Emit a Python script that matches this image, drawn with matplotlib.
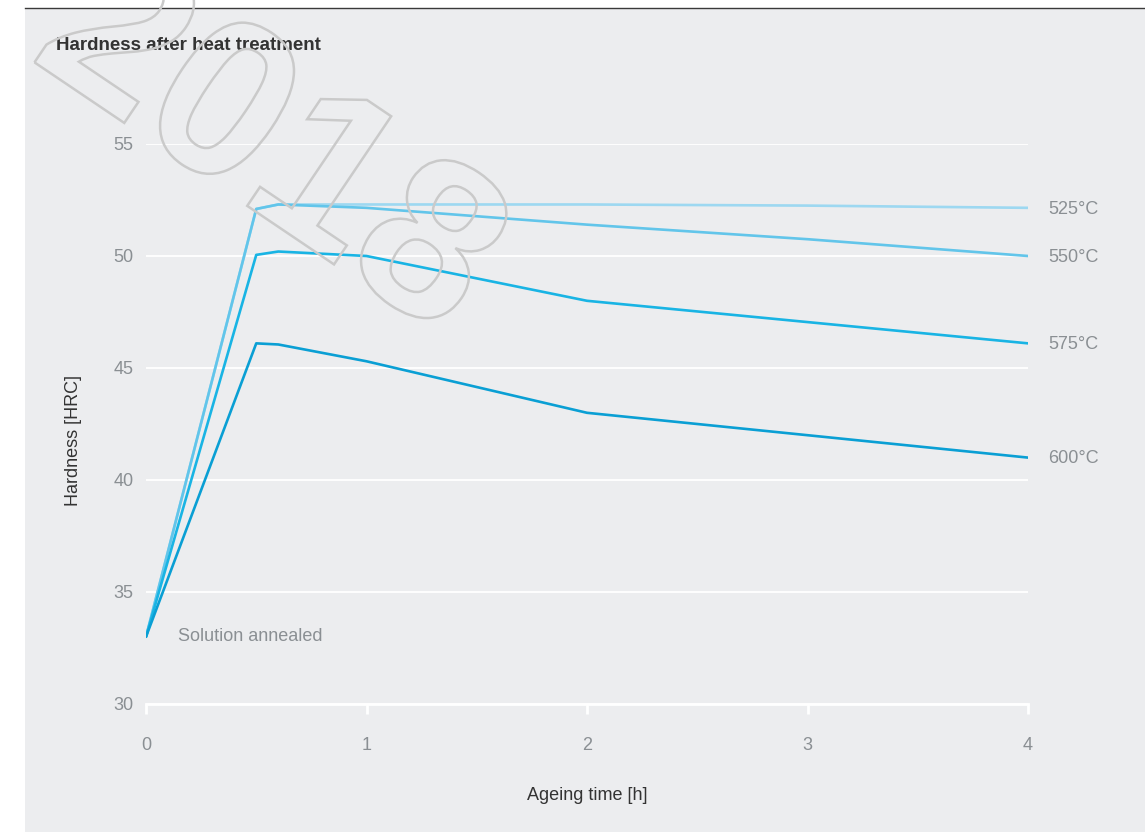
import matplotlib.pyplot as plt
from matplotlib.textpath import TextPath
from matplotlib.patches import PathPatch, Rectangle
from matplotlib.font_manager import FontProperties
from matplotlib.lines import Line2D
from matplotlib.transforms import Affine2D

# ageing curves, hardness in HRC over time in hours
t_525 = [0, 0.5, 0.6, 1, 2, 3, 4]
h_525 = [33.0, 52.1, 52.3, 52.3, 52.3, 52.25, 52.15]

t_550 = [0, 0.5, 0.6, 1, 2, 3, 4]
h_550 = [33.0, 52.1, 52.3, 52.15, 51.4, 50.75, 50.0]

t_575 = [0, 0.5, 0.6, 1, 2, 3, 4]
h_575 = [33.0, 50.05, 50.2, 50.0, 48.0, 47.05, 46.1]

t_600 = [0, 0.5, 0.6, 1, 2, 3, 4]
h_600 = [33.0, 46.1, 46.05, 45.3, 43.0, 42.0, 41.0]

labels = ["525°C", "550°C", "575°C", "600°C"]
colors = ["#9dd8f1", "#62c5ea", "#19b4e4", "#0a9fd4"]

x_ticks = [0, 1, 2, 3, 4]
y_ticks = [30, 35, 40, 45, 50, 55]

FONT = ["Liberation Sans", "DejaVu Sans"]
GREY = "#8a8f93"
PANEL = "#ecedef"

W, H = 1145, 832
fig = plt.figure(figsize=(W / 100, H / 100), dpi=100)
fig.patch.set_facecolor("white")

# grey card behind the chart and the rule on top of it
fig.add_artist(Rectangle((25 / W, 0), 1 - 25 / W, (H - 9) / H,
                         transform=fig.transFigure, facecolor=PANEL,
                         edgecolor="none", zorder=0))
fig.add_artist(Line2D([25 / W, 1], [(H - 8) / H, (H - 8) / H],
                      transform=fig.transFigure, color="#3a3a3a", lw=1.0))

ax = fig.add_axes([146 / W, 128 / H, (1028 - 146) / W, (704 - 144) / H])
ax.patch.set_alpha(0)

series = [(t_525, h_525), (t_550, h_550), (t_575, h_575), (t_600, h_600)]
for (t, h), lab, c in zip(series, labels, colors):
    ax.plot(t, h, color=c, lw=1.9, solid_joinstyle="round",
            solid_capstyle="round", zorder=3)
    ax.annotate(lab, xy=(t[-1], h[-1]), xytext=(14.5, -1),
                textcoords="offset points", va="center", ha="left",
                fontsize=13, color=GREY, family=FONT, annotation_clip=False)

ax.text(0.145, 33.0, "Solution annealed", fontsize=13, color=GREY,
        family=FONT, va="center", ha="left")

ax.set_xlim(0, 4)
ax.set_ylim(30, 55)
ax.set_xticks(x_ticks)
ax.set_yticks(y_ticks)
ax.grid(axis="y", color="white", lw=1.3, zorder=1)
ax.set_axisbelow(True)

for s in ["top", "right", "left"]:
    ax.spines[s].set_visible(False)
ax.spines["bottom"].set_color("white")
ax.spines["bottom"].set_linewidth(2)

ax.tick_params(axis="x", colors="white", width=2, length=7, pad=17,
               labelcolor=GREY, labelsize=13)
ax.tick_params(axis="y", length=0, pad=9, labelcolor=GREY, labelsize=13)
for lbl in ax.get_xticklabels() + ax.get_yticklabels():
    lbl.set_family(FONT)

ax.set_xlabel("Ageing time [h]", fontsize=13, color="#333333", family=FONT)
ax.xaxis.set_label_coords(0.5, -0.148)
ax.set_ylabel("Hardness [HRC]", fontsize=13, color="#333333", family=FONT)
ax.yaxis.set_label_coords(-0.072, 0.47)

fig.text(56 / W, 1 - 46 / H, "Hardness after heat treatment", fontsize=13.5,
         fontweight="bold", color="#333333", family=FONT, va="center")

# outlined year stamp across the upper left corner
tp = TextPath((0, 0), "2018", size=225,
              prop=FontProperties(family="Liberation Sans", weight="bold"))
stamp = PathPatch(tp, facecolor="none", edgecolor="#cacaca", lw=1.8,
                  transform=Affine2D().rotate_deg(-34).translate(28, H - 58),
                  zorder=10)
fig.add_artist(stamp)

fig.savefig("out.png", dpi=100, facecolor=fig.get_facecolor())
